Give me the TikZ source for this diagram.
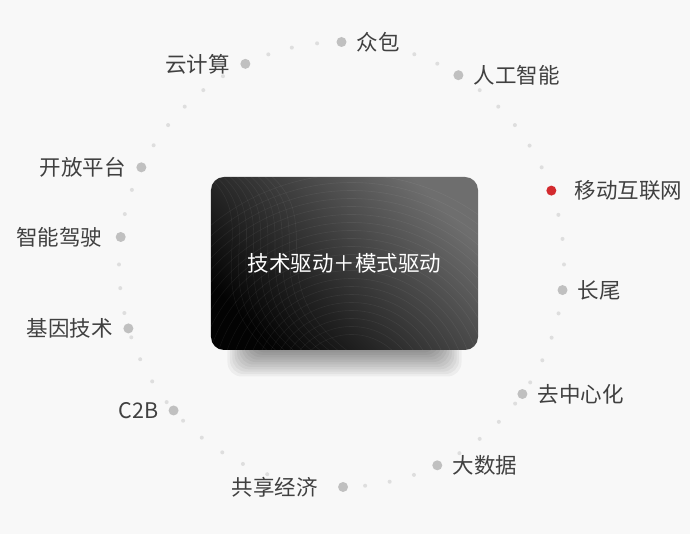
\documentclass[tikz,border=0pt]{standalone}
\usepackage{fontspec}
\newfontfamily\cjk{Noto Sans CJK SC}
\usetikzlibrary{positioning}

\definecolor{pagebg}{HTML}{F8F8F8}
\definecolor{dotgray}{HTML}{C0C0C0}
\definecolor{pipgray}{HTML}{DEDEDE}
\definecolor{hotred}{HTML}{D32A2E}
\definecolor{inkgray}{HTML}{404040}
\definecolor{cardlight}{HTML}{6E6E6E}
\definecolor{carddark}{HTML}{030303}

\begin{document}
\begin{tikzpicture}[x=1pt,y=1pt,
  dot/.style={circle,fill=dotgray,minimum size=10pt,inner sep=0pt},
  hot/.style={dot,fill=hotred},
  pip/.style={fill=pipgray},
  tag/.style={inner sep=0pt,text=inkgray,font=\cjk\fontsize{21.5}{24}\selectfont},
  card/.style={rounded corners=13pt,minimum width=267pt,minimum height=173pt,
    top color=cardlight,bottom color=carddark,shading angle=-45,
    text=white,font=\cjk\fontsize{21.5}{24}\selectfont},
  haze/.style={black,opacity=.045,rounded corners=14pt},
  wave/.style={white,opacity=.06,line width=.6pt}
]
  \useasboundingbox (-341.5,-269.5) rectangle (348.5,264.5);
  \fill[pagebg] (-341.5,-269.5) rectangle (348.5,264.5);

  % small dots along the ring
  \foreach \a in {109.2,102.9,96.3,70.9,64.5,51.6,45.2,38.8,32.3,25.9,
                  12.9,6.6,0,-12.7,-19.2,-25.5,-32,-38.7,-45,-51.6,-58,
                  -71,-77.5,-83.9,-109.5,-116.3,-122.4,-128.9,-135.4,
                  -141.8,-148.3,-154.8,-160.9,-167.4,-173.9,180,166.9,
                  160.4,147.6,141.2,134.8,128.4,122.2}
    \fill[pip] (\a:222.5) circle (2pt);

  % soft shadow under the card
  \foreach \k in {0,...,11}
    \fill[haze] (-114+2.4*\k,-112+2.4*\k) rectangle (120-2.4*\k,-50);

  % centre card
  \node[card] (core) at (3,1) {技术驱动＋模式驱动};
  \begin{scope}
    \clip[rounded corners=13pt] (core.south west) rectangle (core.north east);
    \foreach \i in {0,...,9}
      \draw[wave] (-135+7*\i,90) .. controls (-75+7*\i,40) and (-150+7*\i,-20) .. (-70+9*\i,-90);
    \foreach \r in {60,68,...,220}
      \draw[wave] (10,-130) circle (\r);
  \end{scope}

  % topics on the ring
  \node[dot] (zb) at (90:222.5) {};
  \node[dot] (rg) at (58.3:222.5) {};
  \node[hot] (yd) at (19.4:222.5) {};
  \node[dot] (cw) at (-6.6:222.5) {};
  \node[dot] (qz) at (-35.6:222.5) {};
  \node[dot] (ds) at (-64.5:222.5) {};
  \node[dot] (gx) at (-89.6:222.5) {};
  \node[dot] (cb) at (-139:222.5) {};
  \node[dot] (jy) at (196.7:222.5) {};
  \node[dot] (zn) at (172.9:222.5) {};
  \node[dot] (kf) at (154.1:222.5) {};
  \node[dot] (yj) at (115.6:222.5) {};

  \node[tag,right=10pt of zb] (zb-t) {众包};
  \node[tag,right=10pt of rg] (rg-t) {人工智能};
  \node[tag,right=18pt of yd] (yd-t) {移动互联网};
  \node[tag,right=10pt of cw] (cw-t) {长尾};
  \node[tag,right=10pt of qz] (qz-t) {去中心化};
  \node[tag,right=10pt of ds] (ds-t) {大数据};
  \node[tag,left=20pt of gx] (gx-t) {共享经济};
  \node[tag,left=10pt of cb] (cb-t) {C2B};
  \node[tag,left=10pt of jy] (jy-t) {基因技术};
  \node[tag,left=13pt of zn] (zn-t) {智能驾驶};
  \node[tag,left=10pt of kf] (kf-t) {开放平台};
  \node[tag,left=10pt of yj] (yj-t) {云计算};
\end{tikzpicture}
\end{document}
